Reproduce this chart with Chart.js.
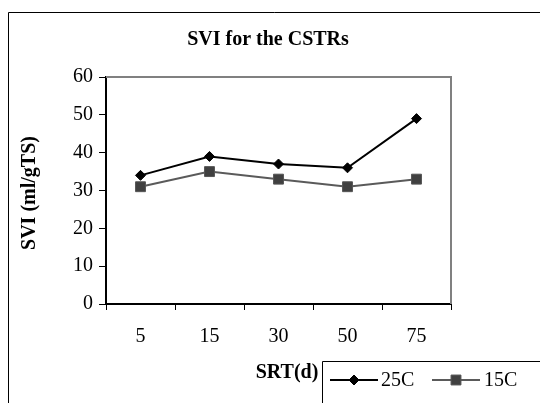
<!DOCTYPE html>
<html><head><meta charset="utf-8">
<script src="https://cdn.jsdelivr.net/npm/chart.js@4/dist/chart.umd.min.js"></script>
<style>html,body{margin:0;padding:0;background:#fff;}#wrap{width:540px;height:403px;position:relative;}</style>
</head><body><div id="wrap"><canvas id="c" width="540" height="403"></canvas></div>
<script>
const categories = ['5', '15', '30', '50', '75'];
const series25C = [34, 39, 37, 36, 49];
const series15C = [31, 35, 33, 31, 33];
const seriesNames = ['25C', '15C'];
const yTicks = [0, 10, 20, 30, 40, 50, 60];
const chartTitle = 'SVI for the CSTRs';
const xTitle = 'SRT(d)';
const yTitle = 'SVI (ml/gTS)';

const SERIF = '"Liberation Serif", "Times New Roman", serif';

const textPlugin = {
  id: 'texts',
  afterDraw(chart) {
    const ctx = chart.ctx;
    const ca = chart.chartArea;
    ctx.save();
    ctx.strokeStyle = '#000'; ctx.lineWidth = 1;
    ctx.beginPath(); ctx.moveTo(8.5, 420); ctx.lineTo(8.5, 12.5); ctx.lineTo(560, 12.5); ctx.stroke();
    ctx.strokeStyle = '#808080'; ctx.lineWidth = 2;
    ctx.beginPath(); ctx.moveTo(ca.left, ca.top); ctx.lineTo(ca.right, ca.top); ctx.lineTo(ca.right, ca.bottom); ctx.stroke();
    ctx.fillStyle = '#000';
    ctx.textAlign = 'center'; ctx.textBaseline = 'middle';
    ctx.font = 'bold 20px ' + SERIF;
    ctx.fillText(chartTitle, 268, 40);
    ctx.font = 'bold 20px ' + SERIF;
    ctx.fillText(xTitle, 287, 373);
    ctx.save();
    ctx.translate(30, 193); ctx.rotate(-Math.PI / 2);
    ctx.fillText(yTitle, 0, 0);
    ctx.restore();
    ctx.strokeStyle = '#000'; ctx.lineWidth = 1;
    ctx.beginPath(); ctx.moveTo(322.5, 420); ctx.lineTo(322.5, 361.5); ctx.lineTo(560, 361.5); ctx.stroke();
    const items = [{x: 330, tx: 381}, {x: 432, tx: 484}];
    ctx.font = '20px ' + SERIF; ctx.textAlign = 'left';
    chart.data.datasets.forEach((ds, i) => {
      const it = items[i]; const y = 380;
      ctx.strokeStyle = ds.borderColor; ctx.lineWidth = 2;
      ctx.beginPath(); ctx.moveTo(it.x, y); ctx.lineTo(it.x + 48, y); ctx.stroke();
      ctx.fillStyle = ds.backgroundColor; ctx.strokeStyle = ds.pointBorderColor; ctx.lineWidth = 1;
      Chart.helpers.drawPoint(ctx, {pointStyle: ds.pointStyle, radius: ds.pointRadius, borderWidth: 1}, it.x + 24, y);
      ctx.fillStyle = '#000';
      ctx.fillText(ds.label, it.tx, y + 1);
    });
    ctx.restore();
  }
};

new Chart(document.getElementById('c'), {
  type: 'line',
  data: {
    labels: categories,
    datasets: [
      { label: seriesNames[0], data: series25C, borderColor: '#000000', backgroundColor: '#000000',
        borderWidth: 2, pointStyle: 'rectRot', pointRadius: 5, pointBorderWidth: 1, pointBorderColor: '#000', tension: 0 },
      { label: seriesNames[1], data: series15C, borderColor: '#5a5a5a', backgroundColor: '#404040',
        borderWidth: 2, pointStyle: 'rect', pointRadius: 7, pointBorderWidth: 1, pointBorderColor: '#555', tension: 0 }
    ]
  },
  options: {
    responsive: false, animation: false,
    layout: { padding: { left: 0, right: 89, top: 77, bottom: 0 } },
    plugins: { legend: { display: false }, title: { display: false }, tooltip: { enabled: false } },
    scales: {
      x: {
        type: 'category', offset: true,
        grid: { display: true, drawOnChartArea: false, drawTicks: true, tickLength: 6, color: '#000', offset: true },
        border: { display: true, color: '#000', width: 2 },
        ticks: { color: '#000', font: { family: SERIF, size: 20 }, padding: 15, maxRotation: 0 },
        afterFit(s) { s.height = 99; }
      },
      y: {
        min: 0, max: 60,
        afterBuildTicks(s) { s.ticks = yTicks.map(v => ({ value: v })); },
        grid: { display: true, drawOnChartArea: false, drawTicks: true, tickLength: 7, color: '#000' },
        border: { display: true, color: '#000', width: 2 },
        ticks: { color: '#000', font: { family: SERIF, size: 20 }, padding: 6 },
        afterFit(s) { s.width = 106; }
      }
    }
  },
  plugins: [textPlugin]
});
</script></body></html>
